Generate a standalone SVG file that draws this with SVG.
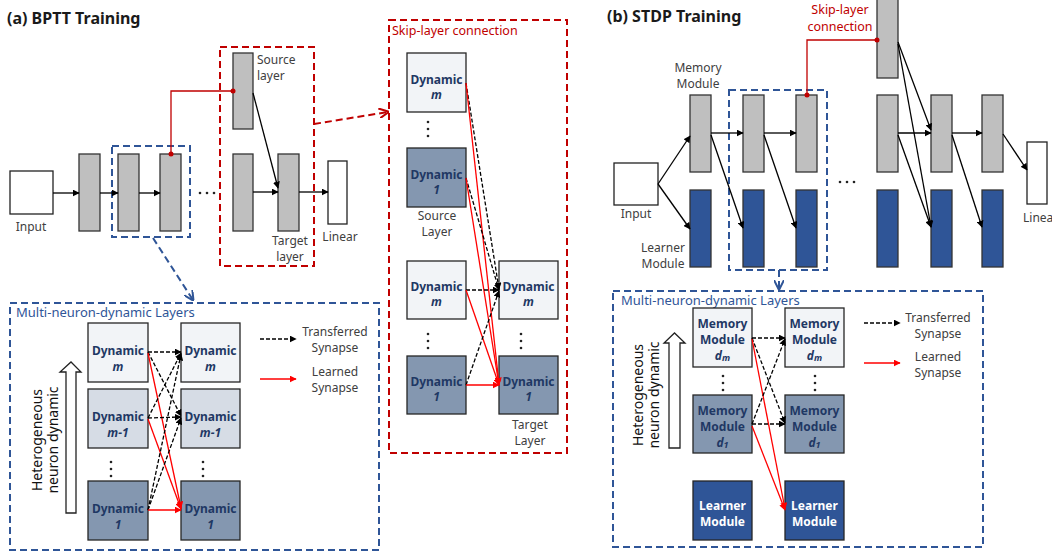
<svg xmlns="http://www.w3.org/2000/svg" width="1052" height="552" viewBox="0 0 1052 552">
<defs>
<marker id="ab" viewBox="0 0 10 10" refX="9" refY="5" markerWidth="7" markerHeight="7" markerUnits="userSpaceOnUse" orient="auto"><path d="M0,0 L10,5 L0,10 z" fill="#000"/></marker>
<marker id="ar" viewBox="0 0 10 10" refX="9" refY="5" markerWidth="7" markerHeight="7" markerUnits="userSpaceOnUse" orient="auto"><path d="M0,0 L10,5 L0,10 z" fill="#FF0000"/></marker>
<marker id="adr" viewBox="0 0 10 10" refX="9" refY="5" markerWidth="10" markerHeight="10" markerUnits="userSpaceOnUse" orient="auto"><path d="M0,0 L10,5 L0,10" fill="none" stroke="#C00000" stroke-width="2"/></marker>
<marker id="adb" viewBox="0 0 10 10" refX="9" refY="5" markerWidth="10" markerHeight="10" markerUnits="userSpaceOnUse" orient="auto"><path d="M0,0 L10,5 L0,10" fill="none" stroke="#2F5597" stroke-width="2"/></marker>
</defs>
<style>
text{font-family:"Noto Sans","Open Sans",sans-serif}
.title{font-size:16px;font-weight:bold;fill:#1a1a1a}
.lbl{font-size:12px;fill:#404040;text-anchor:middle}
.lbs{font-size:12px;fill:#404040}
.bar{fill:#BFBFBF;stroke:#333;stroke-width:1.3}
.bar2{fill:#2F5597;stroke:#333;stroke-width:1.3}
.wbox{fill:#fff;stroke:#222;stroke-width:1.3}
.dm{fill:#F2F4F7;stroke:#262626;stroke-width:1.3}
.dm1{fill:#D6DCE5;stroke:#262626;stroke-width:1.3}
.d1{fill:#8497B0;stroke:#262626;stroke-width:1.3}
.dl{fill:#2F5597;stroke:#262626;stroke-width:1.3}
.bt{font-size:12px;font-weight:bold;fill:#1F3864;text-anchor:middle}
.wt{font-size:12px;font-weight:bold;fill:#fff;text-anchor:middle}
.it{font-style:italic}
.bdash{fill:none;stroke:#2F5597;stroke-width:2;stroke-dasharray:7 4}
.rdash{fill:none;stroke:#C00000;stroke-width:2;stroke-dasharray:7 4}
.blue{font-size:13px;fill:#2F5597}
.red{font-size:12.5px;fill:#C00000}
.k{fill:none;stroke:#000;stroke-width:1.3;marker-end:url(#ab)}
.kd{fill:none;stroke:#000;stroke-width:1.3;stroke-dasharray:4 2;marker-end:url(#ab)}
.r{fill:none;stroke:#FF0000;stroke-width:1.3;marker-end:url(#ar)}
.rl{fill:none;stroke:#C00000;stroke-width:1.3}
.het{font-size:14px;fill:#111;text-anchor:middle}
.hollow{fill:#fff;stroke:#222;stroke-width:1.3}
.dot{fill:#222}
</style>

<!-- Titles -->
<text class="title" x="7" y="24">(a) BPTT Training</text>
<text class="title" x="607" y="22">(b) STDP Training</text>

<!-- ===== (a) top ===== -->
<g id="a-input"><rect class="wbox" x="10" y="171" width="43" height="43"/><text class="lbl" x="31" y="231">Input</text></g>
<g id="a-bar1"><rect class="bar" x="79" y="154" width="21" height="77"/></g>
<g id="a-group-box"><rect class="bdash" x="112" y="146" width="78" height="91"/></g>
<g id="a-bar2"><rect class="bar" x="118" y="154" width="21" height="77"/></g>
<g id="a-bar3"><rect class="bar" x="160" y="154" width="21" height="77"/></g>
<g id="a-dots"><circle class="dot" cx="200" cy="193" r="1.3"/><circle class="dot" cx="207" cy="193" r="1.3"/><circle class="dot" cx="214" cy="193" r="1.3"/></g>
<g id="a-skip-box"><rect class="rdash" x="220" y="47" width="94" height="219"/></g>
<g id="a-source"><rect class="bar" x="233" y="53" width="20" height="76"/><text class="lbs" x="257" y="64">Source</text><text class="lbs" x="257" y="80">layer</text></g>
<g id="a-bar4"><rect class="bar" x="233" y="154" width="20" height="77"/></g>
<g id="a-target"><rect class="bar" x="278" y="154" width="21" height="77"/><text class="lbl" x="290" y="245">Target</text><text class="lbl" x="290" y="261">layer</text></g>
<g id="a-linear"><rect class="wbox" x="328" y="161" width="19" height="63"/><text class="lbl" x="340" y="241">Linear</text></g>

<!-- ===== (a) skip-layer detail ===== -->
<g id="skip-box"><rect class="rdash" x="389" y="20" width="178" height="433"/><text class="red" x="392" y="35">Skip-layer connection</text></g>
<g id="s-src-m"><rect class="dm" x="407" y="53" width="59" height="59"/><text class="bt" x="436.5" y="84">Dynamic</text><text class="bt it" x="436.5" y="99">m</text></g>
<g id="s-dots1"><circle class="dot" cx="428" cy="122" r="1.3"/><circle class="dot" cx="428" cy="129" r="1.3"/><circle class="dot" cx="428" cy="136" r="1.3"/></g>
<g id="s-src-1"><rect class="d1" x="407" y="148" width="59" height="59"/><text class="bt" x="436.5" y="179">Dynamic</text><text class="bt it" x="436.5" y="194">1</text><text class="lbl" x="437" y="220">Source</text><text class="lbl" x="437" y="236">Layer</text></g>
<g id="s-low-m"><rect class="dm" x="407" y="261" width="59" height="58"/><text class="bt" x="436.5" y="291">Dynamic</text><text class="bt it" x="436.5" y="306">m</text></g>
<g id="s-dots2"><circle class="dot" cx="428" cy="334" r="1.3"/><circle class="dot" cx="428" cy="341" r="1.3"/><circle class="dot" cx="428" cy="348" r="1.3"/></g>
<g id="s-low-1"><rect class="d1" x="407" y="356" width="59" height="58"/><text class="bt" x="436.5" y="386">Dynamic</text><text class="bt it" x="436.5" y="401">1</text></g>
<g id="s-tgt-m"><rect class="dm" x="499" y="261" width="59" height="58"/><text class="bt" x="528.5" y="291">Dynamic</text><text class="bt it" x="528.5" y="306">m</text></g>
<g id="s-dots3"><circle class="dot" cx="521" cy="334" r="1.3"/><circle class="dot" cx="521" cy="341" r="1.3"/><circle class="dot" cx="521" cy="348" r="1.3"/></g>
<g id="s-tgt-1"><rect class="d1" x="499" y="356" width="59" height="58"/><text class="bt" x="528.5" y="386">Dynamic</text><text class="bt it" x="528.5" y="401">1</text><text class="lbl" x="530" y="429">Target</text><text class="lbl" x="530" y="445">Layer</text></g>

<!-- ===== (a) bottom ===== -->
<g id="a-mnd-box"><rect class="bdash" x="10" y="303" width="369" height="247"/><text class="blue" x="16" y="317">Multi-neuron-dynamic Layers</text></g>
<g id="a-hollow"><path class="hollow" d="M66,513 L66,372 L60,372 L71,362 L81,372 L76,372 L76,513 Z"/><text class="het" transform="translate(42,440) rotate(-90)">Heterogeneous</text><text class="het" transform="translate(58,440) rotate(-90)">neuron dynamic</text></g>
<g id="b-l-m"><rect class="dm" x="88" y="323" width="60" height="59"/><text class="bt" x="118" y="355">Dynamic</text><text class="bt it" x="118" y="371">m</text></g>
<g id="b-l-m1"><rect class="dm1" x="88" y="389" width="60" height="59"/><text class="bt" x="118" y="421">Dynamic</text><text class="bt it" x="118" y="437">m-1</text></g>
<g id="b-l-dots"><circle class="dot" cx="111" cy="462" r="1.3"/><circle class="dot" cx="111" cy="469" r="1.3"/><circle class="dot" cx="111" cy="476" r="1.3"/></g>
<g id="b-l-1"><rect class="d1" x="88" y="481" width="60" height="59"/><text class="bt" x="118" y="513">Dynamic</text><text class="bt it" x="118" y="529">1</text></g>
<g id="b-r-m"><rect class="dm" x="181" y="323" width="59" height="59"/><text class="bt" x="210.5" y="355">Dynamic</text><text class="bt it" x="210.5" y="371">m</text></g>
<g id="b-r-m1"><rect class="dm1" x="181" y="389" width="59" height="59"/><text class="bt" x="210.5" y="421">Dynamic</text><text class="bt it" x="210.5" y="437">m-1</text></g>
<g id="b-r-dots"><circle class="dot" cx="203" cy="462" r="1.3"/><circle class="dot" cx="203" cy="469" r="1.3"/><circle class="dot" cx="203" cy="476" r="1.3"/></g>
<g id="b-r-1"><rect class="d1" x="181" y="481" width="59" height="59"/><text class="bt" x="210.5" y="513">Dynamic</text><text class="bt it" x="210.5" y="529">1</text></g>
<g id="a-legend"><text class="lbl" x="335" y="336">Transferred</text><text class="lbl" x="335" y="352">Synapse</text><text class="lbl" x="335" y="376">Learned</text><text class="lbl" x="335" y="392">Synapse</text></g>

<!-- ===== (b) top ===== -->
<g id="b-input"><rect class="wbox" x="614" y="163" width="44" height="42"/><text class="lbl" x="636" y="218">Input</text></g>
<g id="b-mem-label"><text class="lbl" x="698" y="72">Memory</text><text class="lbl" x="698" y="88">Module</text></g>
<g id="b-learn-label"><text class="lbl" x="663" y="252">Learner</text><text class="lbl" x="663" y="268">Module</text></g>
<g id="b-m1"><rect class="bar" x="690" y="95" width="21" height="77"/></g>
<g id="b-l1"><rect class="bar2" x="690" y="190" width="21" height="77"/></g>
<g id="b-group-box"><rect class="bdash" x="729" y="90" width="98" height="180"/></g>
<g id="b-m2"><rect class="bar" x="743" y="95" width="21" height="77"/></g>
<g id="b-l2"><rect class="bar2" x="743" y="190" width="21" height="77"/></g>
<g id="b-m3"><rect class="bar" x="796" y="95" width="21" height="77"/></g>
<g id="b-l3"><rect class="bar2" x="796" y="190" width="21" height="77"/></g>
<g id="b-dots"><circle class="dot" cx="840" cy="182" r="1.3"/><circle class="dot" cx="847" cy="182" r="1.3"/><circle class="dot" cx="854" cy="182" r="1.3"/></g>
<g id="b-skip-label"><text class="red" x="840" y="14" text-anchor="middle">Skip-layer</text><text class="red" x="840" y="31" text-anchor="middle">connection</text></g>
<g id="b-top"><rect class="bar" x="877" y="-2" width="21" height="80"/></g>
<g id="b-mA"><rect class="bar" x="877" y="95" width="21" height="77"/></g>
<g id="b-lA"><rect class="bar2" x="877" y="190" width="21" height="77"/></g>
<g id="b-mB"><rect class="bar" x="931" y="95" width="21" height="77"/></g>
<g id="b-lB"><rect class="bar2" x="931" y="190" width="21" height="77"/></g>
<g id="b-mC"><rect class="bar" x="982" y="95" width="21" height="77"/></g>
<g id="b-lC"><rect class="bar2" x="982" y="190" width="21" height="77"/></g>
<g id="b-linear"><rect class="wbox" x="1027" y="142" width="20" height="62"/><text class="lbs" x="1023" y="222">Linear</text></g>

<!-- ===== (b) bottom ===== -->
<g id="b-mnd-box"><rect class="bdash" x="613" y="291" width="370" height="256"/><text class="blue" x="621" y="305">Multi-neuron-dynamic Layers</text></g>
<g id="b-hollow"><path class="hollow" d="M669,448 L669,343 L664,343 L674.5,333 L685,343 L680,343 L680,448 Z"/><text class="het" transform="translate(643,395) rotate(-90)">Heterogeneous</text><text class="het" transform="translate(659,395) rotate(-90)">neuron dynamic</text></g>
<g id="bb-l-dm"><rect class="dm" x="693" y="308" width="59" height="59"/><text class="bt" x="722.5" y="328">Memory</text><text class="bt" x="722.5" y="344">Module</text><text class="bt it" x="722.5" y="360">d<tspan font-size="9" dy="1">m</tspan></text></g>
<g id="bb-l-dots"><circle class="dot" cx="723" cy="376" r="1.3"/><circle class="dot" cx="723" cy="383" r="1.3"/><circle class="dot" cx="723" cy="390" r="1.3"/></g>
<g id="bb-l-d1"><rect class="d1" x="693" y="395" width="59" height="58"/><text class="bt" x="722.5" y="415">Memory</text><text class="bt" x="722.5" y="431">Module</text><text class="bt it" x="722.5" y="447">d<tspan font-size="9" dy="1">1</tspan></text></g>
<g id="bb-l-learn"><rect class="dl" x="693" y="481" width="59" height="59"/><text class="wt" x="722.5" y="510">Learner</text><text class="wt" x="722.5" y="526">Module</text></g>
<g id="bb-r-dm"><rect class="dm" x="785" y="308" width="59" height="59"/><text class="bt" x="814.5" y="328">Memory</text><text class="bt" x="814.5" y="344">Module</text><text class="bt it" x="814.5" y="360">d<tspan font-size="9" dy="1">m</tspan></text></g>
<g id="bb-r-dots"><circle class="dot" cx="815" cy="376" r="1.3"/><circle class="dot" cx="815" cy="383" r="1.3"/><circle class="dot" cx="815" cy="390" r="1.3"/></g>
<g id="bb-r-d1"><rect class="d1" x="785" y="395" width="59" height="58"/><text class="bt" x="814.5" y="415">Memory</text><text class="bt" x="814.5" y="431">Module</text><text class="bt it" x="814.5" y="447">d<tspan font-size="9" dy="1">1</tspan></text></g>
<g id="bb-r-learn"><rect class="dl" x="785" y="481" width="59" height="59"/><text class="wt" x="814.5" y="510">Learner</text><text class="wt" x="814.5" y="526">Module</text></g>
<g id="b-legend"><text class="lbl" x="938" y="322">Transferred</text><text class="lbl" x="938" y="338">Synapse</text><text class="lbl" x="938" y="361">Learned</text><text class="lbl" x="938" y="377">Synapse</text></g>

<!-- ===== connectors ===== -->
<g id="connectors">
<line class="k" x1="53" y1="193" x2="79" y2="193"/>
<line class="k" x1="100" y1="193" x2="118" y2="193"/>
<line class="k" x1="139" y1="193" x2="160" y2="193"/>
<line class="k" x1="253" y1="192" x2="278" y2="192"/>
<line class="k" x1="299" y1="192" x2="328" y2="192"/>
<line class="k" x1="253" y1="93" x2="278" y2="188"/>
<polyline class="rl" points="171,154 171,91 233,91"/>
<circle cx="171" cy="154" r="2.5" fill="#C00000"/>
<circle cx="233" cy="91" r="2.5" fill="#C00000"/>
<line class="rdash" x1="314" y1="124" x2="388" y2="112" marker-end="url(#adr)"/>
<line class="bdash" x1="153" y1="238" x2="193" y2="300" marker-end="url(#adb)"/>
<line class="kd" x1="466" y1="83" x2="499" y2="289"/>
<line class="r" x1="466" y1="83" x2="499" y2="384"/>
<line class="kd" x1="466" y1="178" x2="499" y2="290"/>
<line class="r" x1="466" y1="178" x2="499" y2="385"/>
<line class="kd" x1="466" y1="290" x2="499" y2="290"/>
<line class="r" x1="466" y1="290" x2="499" y2="385"/>
<line class="kd" x1="466" y1="385" x2="499" y2="291"/>
<line class="r" x1="466" y1="385" x2="499" y2="385"/>
<line class="kd" x1="148" y1="352" x2="181" y2="352"/>
<line class="kd" x1="148" y1="352" x2="181" y2="416"/>
<line class="r" x1="148" y1="353" x2="181" y2="508"/>
<line class="kd" x1="148" y1="418" x2="181" y2="353"/>
<line class="kd" x1="148" y1="418" x2="181" y2="417"/>
<line class="r" x1="148" y1="419" x2="181" y2="509"/>
<line class="kd" x1="148" y1="510" x2="181" y2="354"/>
<line class="kd" x1="148" y1="510" x2="181" y2="418"/>
<line class="r" x1="148" y1="510" x2="181" y2="510"/>
<line class="kd" x1="260" y1="339" x2="296" y2="339"/>
<line class="r" x1="260" y1="379" x2="296" y2="379"/>
<line class="k" x1="658" y1="184" x2="690" y2="136"/>
<line class="k" x1="658" y1="184" x2="690" y2="229"/>
<line class="k" x1="711" y1="133" x2="743" y2="133"/>
<line class="k" x1="711" y1="135" x2="743" y2="228"/>
<line class="k" x1="764" y1="133" x2="796" y2="133"/>
<line class="k" x1="764" y1="135" x2="796" y2="228"/>
<line class="k" x1="898" y1="42" x2="931" y2="130"/>
<line class="k" x1="898" y1="44" x2="931" y2="227"/>
<line class="k" x1="898" y1="133" x2="931" y2="133"/>
<line class="k" x1="898" y1="135" x2="931" y2="227"/>
<line class="k" x1="952" y1="133" x2="982" y2="133"/>
<line class="k" x1="952" y1="135" x2="982" y2="227"/>
<line class="k" x1="1003" y1="134" x2="1027" y2="170"/>
<polyline class="rl" points="807,95 807,40 877,40"/>
<circle cx="807" cy="95" r="2.5" fill="#C00000"/>
<circle cx="877" cy="40" r="2.5" fill="#C00000"/>
<line class="bdash" x1="779" y1="270" x2="779" y2="289" marker-end="url(#adb)"/>
<line class="kd" x1="752" y1="338" x2="785" y2="338"/>
<line class="kd" x1="752" y1="338" x2="785" y2="423"/>
<line class="r" x1="752" y1="339" x2="785" y2="509"/>
<line class="kd" x1="752" y1="424" x2="785" y2="339"/>
<line class="kd" x1="752" y1="424" x2="785" y2="424"/>
<line class="r" x1="752" y1="426" x2="785" y2="510"/>
<line class="kd" x1="864" y1="323" x2="900" y2="323"/>
<line class="r" x1="864" y1="363" x2="900" y2="363"/>
</g>
</svg>
